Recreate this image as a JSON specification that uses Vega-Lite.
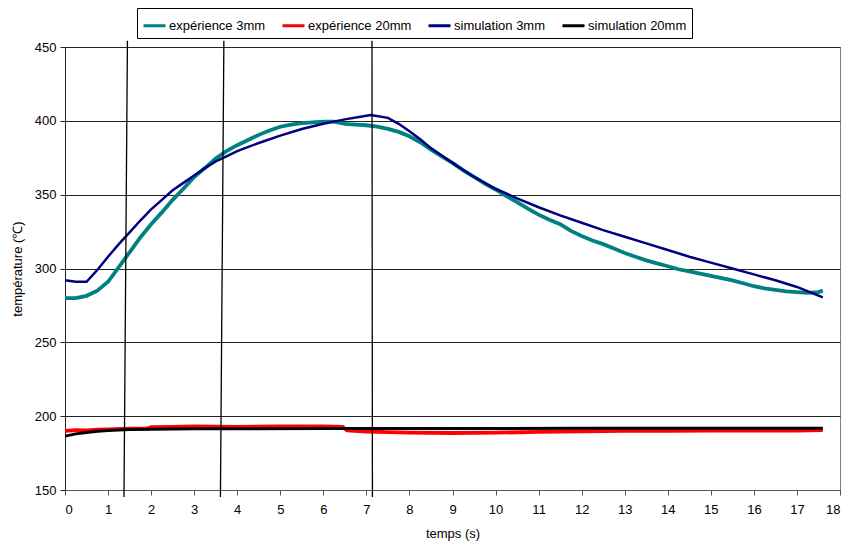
{
  "$schema": "https://vega.github.io/schema/vega-lite/v6.json",
  "autosize": {"type": "none"},
  "width": 775,
  "height": 443,
  "padding": {"left": 65, "top": 47, "right": 9, "bottom": 53},
  "background": "white",
  "config": {
    "font": "Liberation Sans",
    "view": {"stroke": "#808080", "strokeWidth": 1},
    "axis": {"labelFont": "Liberation Sans", "titleFont": "Liberation Sans", "labelFontSize": 13, "titleFontSize": 13, "titleFontWeight": "normal", "labelColor": "black", "titleColor": "black"},
    "legend": {"labelFont": "Liberation Sans", "labelFontSize": 13, "labelColor": "black"}
  },
  "datasets": {
    "curves": [
      {"t": 0, "v": 280, "s": "expérience 3mm"},
      {"t": 0.25, "v": 280, "s": "expérience 3mm"},
      {"t": 0.5, "v": 281.5, "s": "expérience 3mm"},
      {"t": 0.75, "v": 285, "s": "expérience 3mm"},
      {"t": 1, "v": 291, "s": "expérience 3mm"},
      {"t": 1.25, "v": 301, "s": "expérience 3mm"},
      {"t": 1.5, "v": 311, "s": "expérience 3mm"},
      {"t": 1.75, "v": 321, "s": "expérience 3mm"},
      {"t": 2, "v": 330, "s": "expérience 3mm"},
      {"t": 2.25, "v": 338, "s": "expérience 3mm"},
      {"t": 2.5, "v": 346.5, "s": "expérience 3mm"},
      {"t": 2.75, "v": 354, "s": "expérience 3mm"},
      {"t": 3, "v": 362, "s": "expérience 3mm"},
      {"t": 3.25, "v": 368, "s": "expérience 3mm"},
      {"t": 3.5, "v": 374.5, "s": "expérience 3mm"},
      {"t": 3.75, "v": 379.5, "s": "expérience 3mm"},
      {"t": 4, "v": 383.5, "s": "expérience 3mm"},
      {"t": 4.25, "v": 387, "s": "expérience 3mm"},
      {"t": 4.5, "v": 390.5, "s": "expérience 3mm"},
      {"t": 4.75, "v": 393.5, "s": "expérience 3mm"},
      {"t": 5, "v": 396, "s": "expérience 3mm"},
      {"t": 5.25, "v": 397.5, "s": "expérience 3mm"},
      {"t": 5.5, "v": 398.5, "s": "expérience 3mm"},
      {"t": 5.75, "v": 399, "s": "expérience 3mm"},
      {"t": 6, "v": 399.5, "s": "expérience 3mm"},
      {"t": 6.25, "v": 399.5, "s": "expérience 3mm"},
      {"t": 6.5, "v": 398, "s": "expérience 3mm"},
      {"t": 6.75, "v": 397.5, "s": "expérience 3mm"},
      {"t": 7, "v": 397, "s": "expérience 3mm"},
      {"t": 7.25, "v": 396, "s": "expérience 3mm"},
      {"t": 7.5, "v": 394.5, "s": "expérience 3mm"},
      {"t": 7.75, "v": 392.5, "s": "expérience 3mm"},
      {"t": 8, "v": 389.5, "s": "expérience 3mm"},
      {"t": 8.25, "v": 385.5, "s": "expérience 3mm"},
      {"t": 8.5, "v": 380.5, "s": "expérience 3mm"},
      {"t": 8.75, "v": 376, "s": "expérience 3mm"},
      {"t": 9, "v": 371.5, "s": "expérience 3mm"},
      {"t": 9.25, "v": 366.5, "s": "expérience 3mm"},
      {"t": 9.5, "v": 362, "s": "expérience 3mm"},
      {"t": 9.75, "v": 357.5, "s": "expérience 3mm"},
      {"t": 10, "v": 353.5, "s": "expérience 3mm"},
      {"t": 10.25, "v": 349, "s": "expérience 3mm"},
      {"t": 10.5, "v": 345, "s": "expérience 3mm"},
      {"t": 10.75, "v": 340.5, "s": "expérience 3mm"},
      {"t": 11, "v": 336.5, "s": "expérience 3mm"},
      {"t": 11.25, "v": 333, "s": "expérience 3mm"},
      {"t": 11.5, "v": 330, "s": "expérience 3mm"},
      {"t": 11.75, "v": 325.5, "s": "expérience 3mm"},
      {"t": 12, "v": 322, "s": "expérience 3mm"},
      {"t": 12.25, "v": 319, "s": "expérience 3mm"},
      {"t": 12.5, "v": 316.5, "s": "expérience 3mm"},
      {"t": 12.75, "v": 313.5, "s": "expérience 3mm"},
      {"t": 13, "v": 310.5, "s": "expérience 3mm"},
      {"t": 13.25, "v": 308, "s": "expérience 3mm"},
      {"t": 13.5, "v": 305.5, "s": "expérience 3mm"},
      {"t": 13.75, "v": 303.5, "s": "expérience 3mm"},
      {"t": 14, "v": 301.5, "s": "expérience 3mm"},
      {"t": 14.25, "v": 299.5, "s": "expérience 3mm"},
      {"t": 14.5, "v": 298, "s": "expérience 3mm"},
      {"t": 14.75, "v": 296.5, "s": "expérience 3mm"},
      {"t": 15, "v": 295, "s": "expérience 3mm"},
      {"t": 15.25, "v": 293.5, "s": "expérience 3mm"},
      {"t": 15.5, "v": 292, "s": "expérience 3mm"},
      {"t": 15.75, "v": 290, "s": "expérience 3mm"},
      {"t": 16, "v": 288, "s": "expérience 3mm"},
      {"t": 16.25, "v": 286.5, "s": "expérience 3mm"},
      {"t": 16.5, "v": 285.5, "s": "expérience 3mm"},
      {"t": 16.75, "v": 284.5, "s": "expérience 3mm"},
      {"t": 17, "v": 284, "s": "expérience 3mm"},
      {"t": 17.25, "v": 283.5, "s": "expérience 3mm"},
      {"t": 17.5, "v": 284, "s": "expérience 3mm"},
      {"t": 17.6, "v": 285, "s": "expérience 3mm"},

      {"t": 0, "v": 190, "s": "expérience 20mm"},
      {"t": 0.25, "v": 190.5, "s": "expérience 20mm"},
      {"t": 0.5, "v": 190.3, "s": "expérience 20mm"},
      {"t": 0.75, "v": 190.8, "s": "expérience 20mm"},
      {"t": 1, "v": 191, "s": "expérience 20mm"},
      {"t": 1.5, "v": 191.5, "s": "expérience 20mm"},
      {"t": 1.9, "v": 191.5, "s": "expérience 20mm"},
      {"t": 2, "v": 192.5, "s": "expérience 20mm"},
      {"t": 2.5, "v": 192.8, "s": "expérience 20mm"},
      {"t": 3, "v": 193, "s": "expérience 20mm"},
      {"t": 4, "v": 192.8, "s": "expérience 20mm"},
      {"t": 5, "v": 193, "s": "expérience 20mm"},
      {"t": 6, "v": 193, "s": "expérience 20mm"},
      {"t": 6.45, "v": 192.8, "s": "expérience 20mm"},
      {"t": 6.55, "v": 190.3, "s": "expérience 20mm"},
      {"t": 7, "v": 189.6, "s": "expérience 20mm"},
      {"t": 7.5, "v": 189.2, "s": "expérience 20mm"},
      {"t": 8, "v": 188.9, "s": "expérience 20mm"},
      {"t": 9, "v": 188.6, "s": "expérience 20mm"},
      {"t": 10, "v": 188.8, "s": "expérience 20mm"},
      {"t": 11, "v": 189.3, "s": "expérience 20mm"},
      {"t": 12, "v": 189.8, "s": "expérience 20mm"},
      {"t": 13, "v": 190, "s": "expérience 20mm"},
      {"t": 14, "v": 190.1, "s": "expérience 20mm"},
      {"t": 15, "v": 190.2, "s": "expérience 20mm"},
      {"t": 16, "v": 190.3, "s": "expérience 20mm"},
      {"t": 17, "v": 190.3, "s": "expérience 20mm"},
      {"t": 17.6, "v": 190.5, "s": "expérience 20mm"},

      {"t": 0, "v": 292, "s": "simulation 3mm"},
      {"t": 0.25, "v": 291, "s": "simulation 3mm"},
      {"t": 0.5, "v": 291, "s": "simulation 3mm"},
      {"t": 0.75, "v": 299, "s": "simulation 3mm"},
      {"t": 1, "v": 308, "s": "simulation 3mm"},
      {"t": 1.25, "v": 316.5, "s": "simulation 3mm"},
      {"t": 1.5, "v": 324.5, "s": "simulation 3mm"},
      {"t": 1.75, "v": 332.5, "s": "simulation 3mm"},
      {"t": 2, "v": 340, "s": "simulation 3mm"},
      {"t": 2.25, "v": 346.5, "s": "simulation 3mm"},
      {"t": 2.5, "v": 353, "s": "simulation 3mm"},
      {"t": 2.75, "v": 358, "s": "simulation 3mm"},
      {"t": 3, "v": 363, "s": "simulation 3mm"},
      {"t": 3.25, "v": 368, "s": "simulation 3mm"},
      {"t": 3.5, "v": 372.5, "s": "simulation 3mm"},
      {"t": 3.75, "v": 376, "s": "simulation 3mm"},
      {"t": 4, "v": 379.5, "s": "simulation 3mm"},
      {"t": 4.5, "v": 385, "s": "simulation 3mm"},
      {"t": 5, "v": 390, "s": "simulation 3mm"},
      {"t": 5.5, "v": 394.5, "s": "simulation 3mm"},
      {"t": 6, "v": 398, "s": "simulation 3mm"},
      {"t": 6.5, "v": 401, "s": "simulation 3mm"},
      {"t": 7, "v": 403.5, "s": "simulation 3mm"},
      {"t": 7.1, "v": 404, "s": "simulation 3mm"},
      {"t": 7.5, "v": 402, "s": "simulation 3mm"},
      {"t": 7.75, "v": 398, "s": "simulation 3mm"},
      {"t": 8, "v": 393, "s": "simulation 3mm"},
      {"t": 8.25, "v": 387.5, "s": "simulation 3mm"},
      {"t": 8.5, "v": 381.5, "s": "simulation 3mm"},
      {"t": 8.75, "v": 376.5, "s": "simulation 3mm"},
      {"t": 9, "v": 371.5, "s": "simulation 3mm"},
      {"t": 9.5, "v": 362, "s": "simulation 3mm"},
      {"t": 10, "v": 354, "s": "simulation 3mm"},
      {"t": 10.5, "v": 347.5, "s": "simulation 3mm"},
      {"t": 11, "v": 341.5, "s": "simulation 3mm"},
      {"t": 11.5, "v": 336, "s": "simulation 3mm"},
      {"t": 12, "v": 331, "s": "simulation 3mm"},
      {"t": 12.5, "v": 326, "s": "simulation 3mm"},
      {"t": 13, "v": 321.5, "s": "simulation 3mm"},
      {"t": 13.5, "v": 317, "s": "simulation 3mm"},
      {"t": 14, "v": 312.5, "s": "simulation 3mm"},
      {"t": 14.5, "v": 308, "s": "simulation 3mm"},
      {"t": 15, "v": 304, "s": "simulation 3mm"},
      {"t": 15.5, "v": 300, "s": "simulation 3mm"},
      {"t": 16, "v": 296, "s": "simulation 3mm"},
      {"t": 16.5, "v": 292, "s": "simulation 3mm"},
      {"t": 17, "v": 287.5, "s": "simulation 3mm"},
      {"t": 17.3, "v": 284, "s": "simulation 3mm"},
      {"t": 17.6, "v": 280.5, "s": "simulation 3mm"},

      {"t": 0, "v": 186.5, "s": "simulation 20mm"},
      {"t": 0.25, "v": 188, "s": "simulation 20mm"},
      {"t": 0.5, "v": 189, "s": "simulation 20mm"},
      {"t": 0.75, "v": 189.8, "s": "simulation 20mm"},
      {"t": 1, "v": 190.3, "s": "simulation 20mm"},
      {"t": 1.5, "v": 190.9, "s": "simulation 20mm"},
      {"t": 2, "v": 191.2, "s": "simulation 20mm"},
      {"t": 3, "v": 191.4, "s": "simulation 20mm"},
      {"t": 4, "v": 191.5, "s": "simulation 20mm"},
      {"t": 6, "v": 191.6, "s": "simulation 20mm"},
      {"t": 8, "v": 191.6, "s": "simulation 20mm"},
      {"t": 10, "v": 191.7, "s": "simulation 20mm"},
      {"t": 12, "v": 191.8, "s": "simulation 20mm"},
      {"t": 14, "v": 191.8, "s": "simulation 20mm"},
      {"t": 16, "v": 191.8, "s": "simulation 20mm"},
      {"t": 17.6, "v": 191.8, "s": "simulation 20mm"}
    ],
    "marks": [
      {"xa": 1.45, "xb": 1.37, "ya": 454.3, "yb": 145.3},
      {"xa": 3.69, "xb": 3.61, "ya": 454.3, "yb": 145.3},
      {"xa": 7.13, "xb": 7.14, "ya": 454.3, "yb": 145.3}
    ]
  },
  "encoding": {
    "x": {"field": "t", "type": "quantitative", "title": "temps (s)",
      "scale": {"domain": [0, 18], "nice": false, "zero": false},
      "axis": {"values": [0,1,2,3,4,5,6,7,8,9,10,11,12,13,14,15,16,17,18], "grid": false, "domainColor": "#555555", "tickColor": "#555555", "tickSize": 5, "labelPadding": 8, "titleBaseline": "alphabetic", "titleY": 47}},
    "y": {"field": "v", "type": "quantitative", "title": "température (℃)",
      "scale": {"domain": [150, 450], "nice": false, "zero": false},
      "axis": {"values": [150,200,250,300,350,400,450], "grid": true, "gridColor": "#222222", "gridWidth": 1, "gridOpacity": 1, "domainColor": "#222222", "tickColor": "#222222", "tickSize": 5, "labelPadding": 4, "titleBaseline": "middle", "titleX": -48}},
    "color": {"field": "s", "type": "nominal", "title": null,
      "scale": {"domain": ["expérience 3mm", "expérience 20mm", "simulation 3mm", "simulation 20mm"], "range": ["#008080", "#FF0000", "#000080", "#000000"]},
      "legend": {"orient": "none", "legendX": 72, "legendY": -39, "direction": "horizontal", "columns": 4, "strokeColor": "#000000", "fillColor": "#ffffff", "padding": 5, "symbolType": "stroke", "symbolSize": 484, "symbolStrokeWidth": 3, "labelOffset": 2, "columnPadding": 10}}
  },
  "layer": [
    {"data": {"name": "curves"}, "transform": [{"filter": "datum.s === 'expérience 3mm'"}], "mark": {"type": "line", "strokeWidth": 3.8}},
    {"data": {"name": "curves"}, "transform": [{"filter": "datum.s === 'expérience 20mm'"}], "mark": {"type": "line", "strokeWidth": 3.8}},
    {"data": {"name": "curves"}, "transform": [{"filter": "datum.s === 'simulation 3mm'"}], "mark": {"type": "line", "strokeWidth": 2.5}},
    {"data": {"name": "curves"}, "transform": [{"filter": "datum.s === 'simulation 20mm'"}], "mark": {"type": "line", "strokeWidth": 3}},
    {"data": {"name": "marks"}, "mark": {"type": "rule", "color": "black", "strokeWidth": 1.3},
      "encoding": {"x": {"field": "xa", "type": "quantitative"}, "x2": {"field": "xb"}, "y": {"field": "ya", "type": "quantitative"}, "y2": {"field": "yb"}, "color": {"value": "black"}}}
  ]
}
